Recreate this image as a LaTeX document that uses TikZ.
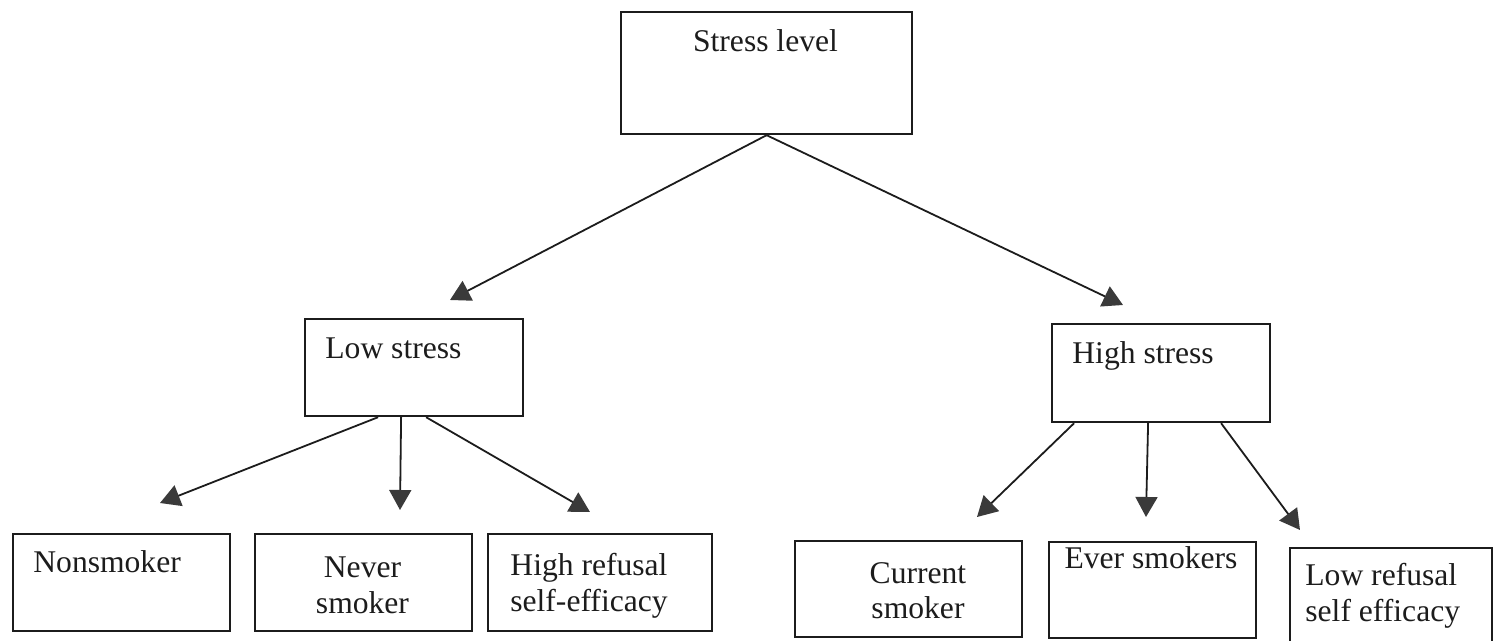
\documentclass[tikz,border=0pt]{standalone}
\usepackage{fontspec}
\setmainfont{Liberation Serif}
\usetikzlibrary{arrows.meta}
\definecolor{scanink}{HTML}{1C1C1C}
\definecolor{headgray}{HTML}{3A3A3A}

\begin{document}
\begin{tikzpicture}[x=0.5pt, y=-0.5pt,
                    box/.style={draw=scanink, line width=1.1pt, inner sep=0pt, anchor=north west},
                    lbl/.style={scanink, inner sep=0pt, font=\fontsize{15.8}{17.75}\selectfont},
                    link/.style={draw=scanink, line width=0.9pt,
                                 -{Triangle[width=11pt, length=10pt, color=headgray]}}]

  \useasboundingbox (0,0) rectangle (1495,641);

  %% top level
  \node[box, minimum width=145.5pt, minimum height=61pt] (stress) at (620,11) {};
  \node[lbl, anchor=base] (stress-t) at (765.5,52) {Stress level};

  %% second level
  \node[box, minimum width=109pt, minimum height=48.5pt] (low) at (304,318) {};
  \node[lbl, anchor=base west] (low-t) at (325,359) {Low stress};
  \node[box, minimum width=109pt, minimum height=49pt] (high) at (1051,323) {};
  \node[lbl, anchor=base west] (high-t) at (1072,364) {High stress};

  %% outcomes under low stress (two-line labels sit on their last line)
  \node[box, minimum width=108.5pt, minimum height=48.5pt] (nonsm) at (12,533) {};
  \node[lbl, anchor=base west] (nonsm-t) at (33,573) {Nonsmoker};
  \node[box, minimum width=108.5pt, minimum height=48.5pt] (never) at (254,533) {};
  \node[lbl, anchor=base, align=center] (never-t) at (362.5,613.5) {Never\\smoker};
  \node[box, minimum width=112pt, minimum height=48.5pt] (highref) at (487,533) {};
  \node[lbl, anchor=base, align=center] (highref-t) at (589,611.5) {High refusal\\self-efficacy};

  %% outcomes under high stress
  \node[box, minimum width=113.5pt, minimum height=48pt] (current) at (794,540) {};
  \node[lbl, anchor=base, align=center] (current-t) at (918,618.5) {Current\\smoker};
  \node[box, minimum width=103.5pt, minimum height=48pt] (ever) at (1048,541) {};
  \node[lbl, anchor=base] (ever-t) at (1151,568) {Ever smokers};
  \node[box, minimum width=101pt, minimum height=50pt] (lowref) at (1289,547) {};
  \node[lbl, anchor=base west, align=left] (lowref-t) at (1305,621.5) {Low refusal\\self efficacy};

  %% arrow tips stop short of the boxes
  \coordinate (low-in) at (450,300);
  \coordinate (high-in) at (1123,305);
  \coordinate (nonsm-in) at (160,503);
  \coordinate (never-in) at (400,510);
  \coordinate (highref-in) at (590,512);
  \coordinate (current-in) at (977,517);
  \coordinate (ever-in) at (1146,517);
  \coordinate (lowref-in) at (1300,530);

  \draw[link] (stress.south) -- (low-in);
  \draw[link] (stress.south) -- (high-in);

  \draw[link] ([xshift=-18pt]low.south) -- (nonsm-in);
  \draw[link] ([xshift=-6.5pt]low.south) -- (never-in);
  \draw[link] ([xshift=6pt]low.south) -- (highref-in);

  \draw[link] ([xshift=-43.5pt]high.south) -- (current-in);
  \draw[link] ([xshift=-6.5pt]high.south) -- (ever-in);
  \draw[link] ([xshift=30pt]high.south) -- (lowref-in);

\end{tikzpicture}
\end{document}
